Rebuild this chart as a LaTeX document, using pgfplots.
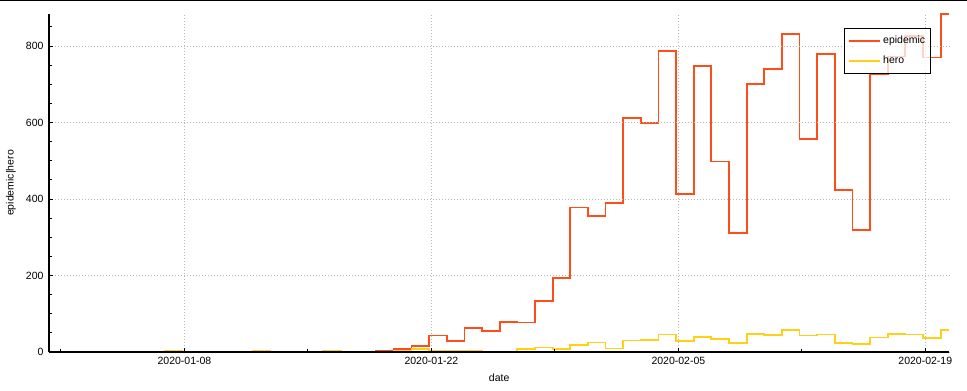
\documentclass[border=0pt]{standalone}
\usepackage{pgfplots}
\pgfplotsset{compat=1.18}
\usepackage{fontspec}
\setmainfont{Liberation Sans}
\definecolor{epi}{RGB}{255,77,25}
\definecolor{heroc}{RGB}{255,208,20}
\definecolor{gridc}{RGB}{185,185,185}
\begin{document}
\begin{tikzpicture}[x=1pt,y=1pt]
\useasboundingbox (0,0) rectangle (967,391);
\fill[black] (0,389.6) rectangle (967,391);
\begin{axis}[
  at={(49pt,39pt)}, anchor=south west,
  scale only axis, width=900.3pt, height=338pt,
  xmin=-0.55, xmax=50.49, ymin=0, ymax=884,
  axis x line=bottom, axis y line=left,
  axis line style={-, line width=1.2pt, black},
  axis on top,
  xtick={7.13,21.13,35.13,49.13},
  xticklabels={2020-01-08,2020-01-22,2020-02-05,2020-02-19},
  minor xtick={0.13,14.13,28.13,42.13},
  ytick={0,200,400,600,800},
  minor ytick={50,100,150,250,300,350,450,500,550,650,700,750,850},
  tick align=inside,
  major tick length=4pt, minor tick length=3pt,
  tick style={black, line width=1pt},
  grid=major,
  major grid style={gridc, dash pattern=on 1pt off 2pt, line width=0.9pt},
  ticklabel style={font=\fontsize{10.5}{12}\selectfont},
  /pgf/number format/assume math mode=true,
  xticklabel style={yshift=-2pt},
  yticklabel style={xshift=-2pt},
  xlabel={date}, ylabel={epidemic|hero},
  label style={font=\fontsize{10.5}{12}\selectfont},
  xlabel style={at={(axis description cs:0.5,0)}, anchor=center, yshift=-26pt},
  ylabel style={at={(axis description cs:-0.0422,0.5)}, anchor=center},
  legend style={at={(0.8834,0.9595)}, anchor=north west, draw=black, line width=1pt,
    fill=white, fill opacity=0.75, text opacity=1, draw opacity=1,
    font=\fontsize{10.5}{12}\selectfont, inner xsep=3pt, inner ysep=6pt, row sep=7pt},
  legend cell align=left,
  legend image post style={xscale=1.85},
]
\addplot[const plot, draw=epi, line width=1.8pt] coordinates {
(0,0) (1,0) (2,0) (3,0) (4,0) (5,0) (6,0) (7,0) (8,0) (9,0) (10,0) (11,0)
(12,1) (13,1) (14,0) (15,0) (16,0) (17,1) (18,2) (19,7) (20,16)
(21,43) (22,28) (23,62) (24,55) (25,79) (26,77) (27,133) (28,194)
(29,378) (30,355) (31,389) (32,611) (33,598) (34,788) (35,413) (36,747)
(37,498) (38,311) (39,700) (40,740) (41,831) (42,557) (43,779) (44,423)
(45,320) (46,727) (47,773) (48,827) (49,770) (50,883) (50.49,883)
};
\addlegendentry{epidemic}
\addplot[const plot, draw=heroc, line width=1.8pt] coordinates {
(0,1) (1,1) (2,0) (3,0) (4,0) (5,0) (6,3) (7,1) (8,1) (9,0) (10,0) (11,4)
(12,1) (13,1) (14,0) (15,4) (16,0) (17,1) (18,1) (19,4) (20,8)
(21,4) (22,3) (23,3) (24,0) (25,0) (26,7) (27,12) (28,8)
(29,18) (30,25) (31,9) (32,30) (33,31) (34,46) (35,28) (36,39)
(37,33) (38,23) (39,47) (40,44) (41,57) (42,43) (43,46) (44,23)
(45,20) (46,38) (47,47) (48,46) (49,36) (50,57) (50.49,57)
};
\addlegendentry{hero}
\end{axis}
\end{tikzpicture}
\end{document}
